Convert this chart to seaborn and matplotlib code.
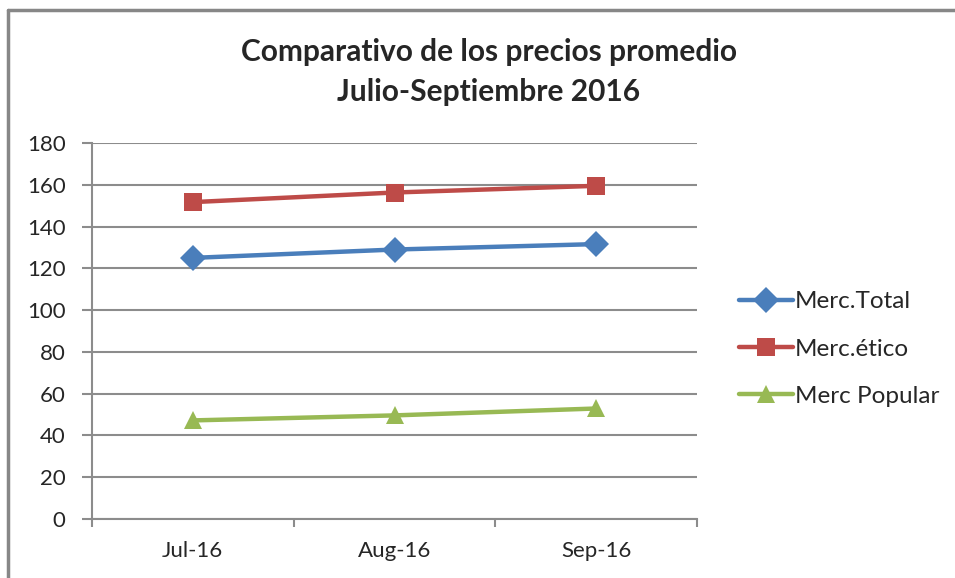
import numpy as np
import pandas as pd
import matplotlib
matplotlib.use('Agg')
import matplotlib.pyplot as plt
import seaborn as sns
from matplotlib.lines import Line2D

# -------------------------
# Data
# -------------------------
months = ['Jul-16', 'Aug-16', 'Sep-16']
merc_total = [125.0, 129.0, 131.6]
merc_etico = [151.7, 156.3, 159.5]
merc_popular = [47.2, 49.6, 52.9]
series_names = ['Merc.Total', 'Merc.ético', 'Merc Popular']

df = pd.DataFrame({
    'Mes': months * 3,
    'Precio': merc_total + merc_etico + merc_popular,
    'Serie': [s for s in series_names for _ in months],
})

# -------------------------
# Style
# -------------------------
sns.set_style('white')
plt.rcParams['font.family'] = ['Lato', 'DejaVu Sans']

colors = ['#4A7EBB', '#BE4B48', '#98B954']
markers = ['D', 's', '^']
grid_color = '#8C8C8C'

fig = plt.figure(figsize=(9.55, 5.78), dpi=100)
ax = fig.add_axes([92 / 955, 1 - 519 / 578, (697 - 92) / 955, (519 - 143) / 578])

sns.lineplot(data=df, x='Mes', y='Precio', hue='Serie', style='Serie',
             palette=colors, markers=markers, dashes=False, linewidth=3.2,
             markersize=13, markeredgewidth=0, ax=ax, sort=False)

ax.set_xlim(-0.5, 2.5)
ax.set_ylim(0, 180)
ax.set_yticks(np.arange(0, 181, 20))
ax.set_xticks([0, 1, 2])
ax.set_xticklabels(months)
ax.set_xticks([-0.5, 0.5, 1.5, 2.5], minor=True)
ax.set_xlabel('')
ax.set_ylabel('')

ax.yaxis.grid(True, color=grid_color, linewidth=1.5)
ax.set_axisbelow(True)
for side in ['top', 'right']:
    ax.spines[side].set_visible(False)
for side in ['left', 'bottom']:
    ax.spines[side].set_color(grid_color)
    ax.spines[side].set_linewidth(1.5)

ax.tick_params(axis='y', which='major', direction='out', length=7, width=1.5,
               color=grid_color, labelsize=16, pad=12, left=True)
ax.tick_params(axis='x', which='major', length=0, labelsize=16, pad=16)
ax.tick_params(axis='x', which='minor', direction='out', length=6, width=1.5,
               color=grid_color, bottom=True)

# legend
handles, labels = ax.get_legend_handles_labels()
leg = ax.legend(handles, labels, loc='center left', bbox_to_anchor=(727 / 955, 1 - 349 / 578),
                bbox_transform=fig.transFigure, frameon=False, fontsize=17.5,
                handlelength=2.2, handletextpad=0.1, labelspacing=1.07,
                borderpad=0)

# title
fig.text(489 / 955, 1 - 52 / 578, 'Comparativo de los precios promedio',
         ha='center', va='center', fontsize=21.5, fontweight='bold')
fig.text(489 / 955, 1 - 92 / 578, 'Julio-Septiembre 2016',
         ha='center', va='center', fontsize=21.5, fontweight='bold')

# outer chart frame (only left and top edges visible)
fig.add_artist(Line2D([8 / 955, 8 / 955], [0, 1 - 10 / 578], transform=fig.transFigure,
                      color='#878787', linewidth=2.5))
fig.add_artist(Line2D([8 / 955, 1], [1 - 10 / 578, 1 - 10 / 578], transform=fig.transFigure,
                      color='#878787', linewidth=2.5))

fig.savefig('out.png', dpi=100)
